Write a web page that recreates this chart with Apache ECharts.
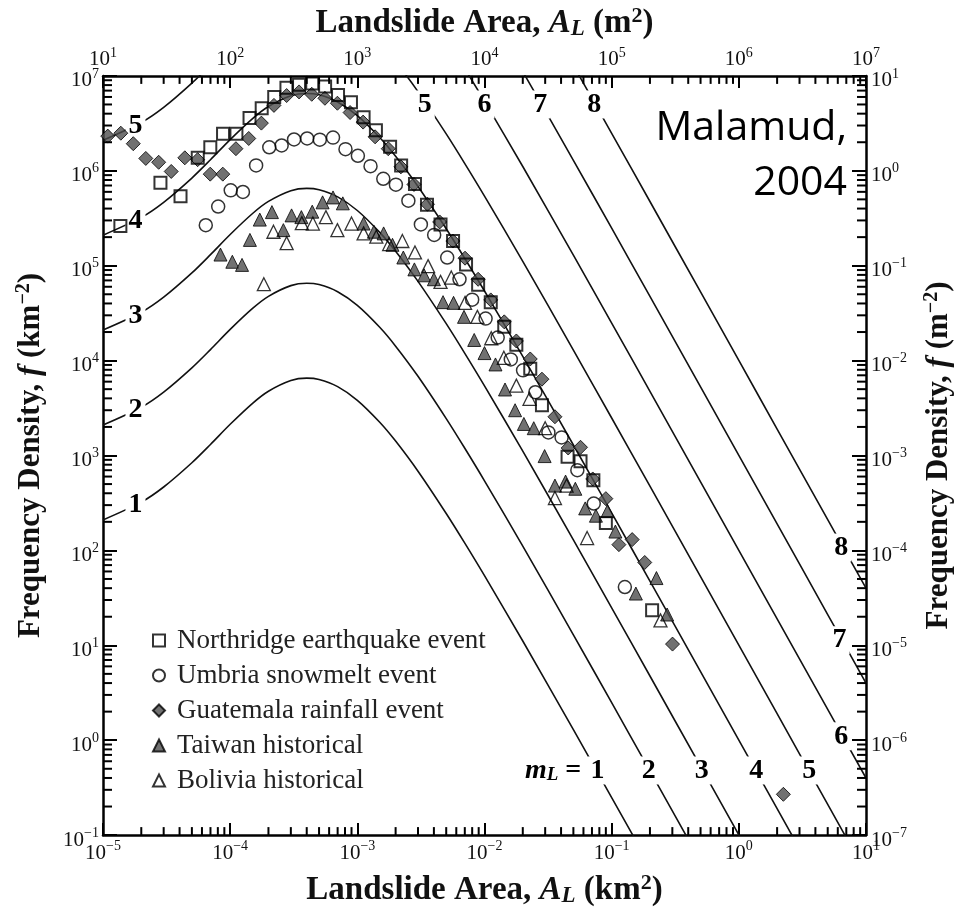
<!DOCTYPE html>
<html><head><meta charset="utf-8">
<script src="https://cdn.jsdelivr.net/npm/echarts@6/dist/echarts.min.js"></script>
<style>html,body{margin:0;padding:0;background:#fff}#c{width:964px;height:913px}</style>
</head><body><div id="c"></div>
<script>
// ---------- axis ranges / tick labels ----------
const bottomTicks = [1e-5, 1e-4, 1e-3, 1e-2, 1e-1, 1e0, 1e1];       // km^2
const topTicks = [1e1, 1e2, 1e3, 1e4, 1e5, 1e6, 1e7];               // m^2
const leftTicks = [1e-1, 1e0, 1e1, 1e2, 1e3, 1e4, 1e5, 1e6, 1e7];   // km^-2
const rightTicks = [1e-7, 1e-6, 1e-5, 1e-4, 1e-3, 1e-2, 1e-1, 1e0, 1e1]; // m^-2

// ---------- model curves ----------
const curveArea = [1e-5,2e-5,3e-5,5e-5,7e-5,1e-4,1.5e-4,2e-4,3e-4,4e-4,5e-4,7e-4,1e-3,1.5e-3,2e-3,3e-3,5e-3,7e-3,1e-2,2e-2,5e-2,0.1,0.2,0.5,1,2,5,10];
const curve1 = [2.096e2,3.227e2,4.657e2,8.389e2,1.307e3,2.132e3,3.548e3,4.756e3,6.167e3,6.530e3,6.324e3,5.316e3,3.817e3,2.243e3,1.420e3,6.834e2,2.449e2,1.192e2,5.412e1,1.110e1,1.290e0,2.484e-1,4.747e-2,5.285e-3,1.003e-3,1.901e-4,2.110e-5,3.997e-6];
const curve2 = [2.096e3,3.227e3,4.657e3,8.389e3,1.307e4,2.132e4,3.548e4,4.756e4,6.167e4,6.530e4,6.324e4,5.316e4,3.817e4,2.243e4,1.420e4,6.834e3,2.449e3,1.192e3,5.412e2,1.110e2,1.290e1,2.484e0,4.747e-1,5.285e-2,1.003e-2,1.901e-3,2.110e-4,3.997e-5];
const curve3 = [2.096e4,3.227e4,4.657e4,8.389e4,1.307e5,2.132e5,3.548e5,4.756e5,6.167e5,6.530e5,6.324e5,5.316e5,3.817e5,2.243e5,1.420e5,6.834e4,2.449e4,1.192e4,5.412e3,1.110e3,1.290e2,2.484e1,4.747e0,5.285e-1,1.003e-1,1.901e-2,2.110e-3,3.997e-4];
const curve4 = [2.096e5,3.227e5,4.657e5,8.389e5,1.307e6,2.132e6,3.548e6,4.756e6,6.167e6,6.530e6,6.324e6,5.316e6,3.817e6,2.243e6,1.420e6,6.834e5,2.449e5,1.192e5,5.412e4,1.110e4,1.290e3,2.484e2,4.747e1,5.285e0,1.003e0,1.901e-1,2.110e-2,3.997e-3];
const curve5 = [2.096e6,3.227e6,4.657e6,8.389e6,1.307e7,2.132e7,3.548e7,4.756e7,6.167e7,6.530e7,6.324e7,5.316e7,3.817e7,2.243e7,1.420e7,6.834e6,2.449e6,1.192e6,5.412e5,1.110e5,1.290e4,2.484e3,4.747e2,5.285e1,1.003e1,1.901e0,2.110e-1,3.997e-2];
const curve6 = [2.096e7,3.227e7,4.657e7,8.389e7,1.307e8,2.132e8,3.548e8,4.756e8,6.167e8,6.530e8,6.324e8,5.316e8,3.817e8,2.243e8,1.420e8,6.834e7,2.449e7,1.192e7,5.412e6,1.110e6,1.290e5,2.484e4,4.747e3,5.285e2,1.003e2,1.901e1,2.110e0,3.997e-1];
const curve7 = [2.096e8,3.227e8,4.657e8,8.389e8,1.307e9,2.132e9,3.548e9,4.756e9,6.167e9,6.530e9,6.324e9,5.316e9,3.817e9,2.243e9,1.420e9,6.834e8,2.449e8,1.192e8,5.412e7,1.110e7,1.290e6,2.484e5,4.747e4,5.285e3,1.003e3,1.901e2,2.110e1,3.997e0];
const curve8 = [2.096e9,3.227e9,4.657e9,8.389e9,1.307e10,2.132e10,3.548e10,4.756e10,6.167e10,6.530e10,6.324e10,5.316e10,3.817e10,2.243e10,1.420e10,6.834e9,2.449e9,1.192e9,5.412e8,1.110e8,1.290e7,2.484e6,4.747e5,5.285e4,1.003e4,1.901e3,2.110e2,3.997e1];
const curves = [curve1, curve2, curve3, curve4, curve5, curve6, curve7, curve8];

// curve labels: [area km^2, density km^-2, text]
const curveLabels = [
  [1.8e-5, 3.0e6, '5'], [1.8e-5, 3.0e5, '4'], [1.8e-5, 3.0e4, '3'], [1.8e-5, 3.0e3, '2'], [1.8e-5, 3.0e2, '1'],
  [3.39e-3, 5e6, '5'], [1.0e-2, 5e6, '6'], [2.75e-2, 5e6, '7'], [7.3e-2, 5e6, '8'],
  [6.4, 107, '8'], [6.2, 11.3, '7'], [6.4, 1.1, '6'],
  [0.0775, 0.48, '1'], [0.196, 0.48, '2'], [0.51, 0.48, '3'], [1.37, 0.48, '4'], [3.58, 0.48, '5'],
  [0.0577, 0.48, 'mL']
];

// ---------- observed landslide inventories ----------
const northridge = [[1.37e-5,2.62e5],[2.83e-5,7.48e5],[4.07e-5,5.39e5],[5.56e-5,1.37e6],[6.98e-5,1.77e6],[8.79e-5,2.45e6],[1.12e-4,2.45e6],[1.42e-4,3.59e6],[1.77e-4,4.55e6],[2.22e-4,5.99e6],[2.77e-4,7.51e6],[3.48e-4,8.07e6],[4.42e-4,8.32e6],[5.58e-4,7.75e6],[7.05e-4,6.31e6],[8.91e-4,5.29e6],[1.12e-3,3.67e6],[1.40e-3,2.68e6],[1.81e-3,1.79e6],[2.21e-3,1.14e6],[2.84e-3,7.27e5],[3.53e-3,4.40e5],[4.51e-3,2.72e5],[5.66e-3,1.82e5],[7.16e-3,1.03e5],[8.91e-3,6.28e4],[1.12e-2,4.13e4],[1.43e-2,2.28e4],[1.78e-2,1.47e4],[2.29e-2,8.22e3],[2.83e-2,3.38e3],[4.50e-2,970],[5.69e-2,869],[7.18e-2,547],[9.00e-2,194],[0.208,23.4]];
const umbria = [[6.43e-5,2.67e5],[8.05e-5,4.20e5],[1.01e-4,6.22e5],[1.26e-4,5.98e5],[1.60e-4,1.14e6],[2.03e-4,1.77e6],[2.54e-4,1.85e6],[3.18e-4,2.14e6],[4.03e-4,2.19e6],[5.07e-4,2.13e6],[6.44e-4,2.24e6],[8.07e-4,1.69e6],[1.01e-3,1.44e6],[1.27e-3,1.12e6],[1.60e-3,8.24e5],[2.01e-3,7.14e5],[2.52e-3,4.84e5],[3.16e-3,2.72e5],[4.02e-3,2.11e5],[5.09e-3,1.22e5],[6.36e-3,7.19e4],[8.00e-3,4.39e4],[1.02e-2,2.77e4],[1.27e-2,1.75e4],[1.61e-2,1.03e4],[2.01e-2,7.90e3],[2.51e-2,4.64e3],[3.18e-2,1.75e3],[4.04e-2,1.55e3],[5.37e-2,701],[7.23e-2,312],[0.127,41.1]];
const guatemala = [[1.09e-5,2.32e6],[1.38e-5,2.49e6],[1.73e-5,1.93e6],[2.17e-5,1.35e6],[2.74e-5,1.23e6],[3.44e-5,9.84e5],[4.40e-5,1.37e6],[5.55e-5,1.31e6],[6.97e-5,9.22e5],[8.75e-5,9.22e5],[1.11e-4,1.71e6],[1.40e-4,2.19e6],[1.76e-4,3.18e6],[2.21e-4,4.89e6],[2.78e-4,6.21e6],[3.48e-4,6.78e6],[4.38e-4,6.40e6],[5.56e-4,5.81e6],[6.97e-4,5.15e6],[8.77e-4,4.11e6],[1.11e-3,3.26e6],[1.38e-3,2.28e6],[1.75e-3,1.71e6],[2.20e-3,1.10e6],[2.79e-3,7.18e5],[3.56e-3,4.44e5],[4.44e-3,2.89e5],[5.64e-3,1.82e5],[7.03e-3,1.20e5],[8.91e-3,7.19e4],[1.12e-2,4.36e4],[1.43e-2,2.56e4],[1.78e-2,1.61e4],[2.29e-2,1.04e4],[2.83e-2,6.37e3],[3.58e-2,2.56e3],[4.55e-2,1.20e3],[5.69e-2,1.22e3],[7.10e-2,566],[9.00e-2,351],[0.114,115],[0.145,130],[0.182,74.6],[0.301,10.3],[2.24,0.269]];
const taiwan = [[8.39e-5,1.31e5],[1.04e-4,1.10e5],[1.24e-4,1.02e5],[1.43e-4,1.87e5],[1.71e-4,3.06e5],[2.13e-4,3.67e5],[2.62e-4,2.37e5],[3.04e-4,3.39e5],[3.63e-4,3.25e5],[4.42e-4,3.71e5],[5.33e-4,4.65e5],[6.44e-4,5.24e5],[7.69e-4,4.54e5],[1.12e-3,2.78e5],[1.35e-3,2.28e5],[1.61e-3,2.19e5],[1.89e-3,1.66e5],[2.30e-3,1.22e5],[2.81e-3,9.14e4],[3.35e-3,7.92e4],[4.00e-3,7.20e4],[4.72e-3,4.13e4],[5.71e-3,4.06e4],[6.90e-3,2.89e4],[8.30e-3,1.65e4],[1.00e-2,1.20e4],[1.22e-2,9.11e3],[1.45e-2,4.96e3],[1.74e-2,3.00e3],[2.04e-2,2.15e3],[2.44e-2,1.94e3],[2.97e-2,986],[3.58e-2,482],[4.34e-2,531],[5.18e-2,446],[6.19e-2,277],[7.52e-2,232],[9.27e-2,259],[0.107,158],[0.155,35.1],[0.225,51.1],[0.273,21.1]];
const bolivia = [[1.84e-4,6.38e4],[2.19e-4,2.28e5],[2.78e-4,1.73e5],[3.66e-4,2.81e5],[4.47e-4,2.78e5],[5.66e-4,3.25e5],[6.97e-4,2.37e5],[9.00e-4,2.78e5],[1.12e-3,2.19e5],[1.41e-3,2.02e5],[1.78e-3,1.69e5],[2.26e-3,1.82e5],[2.84e-3,1.38e5],[3.60e-3,9.89e4],[4.51e-3,6.75e4],[5.48e-3,7.50e4],[7.03e-3,4.06e4],[8.79e-3,2.89e4],[1.13e-2,1.72e4],[1.42e-2,1.07e4],[1.78e-2,5.45e3],[2.26e-2,3.96e3],[3.00e-2,1.94e3],[4.42e-2,482],[3.58e-2,356],[6.41e-2,135],[0.242,18.3]];

const seriesNames = ['Northridge earthquake event','Umbria snowmelt event','Guatemala rainfall event','Taiwan historical','Bolivia historical'];

// ---------- helpers ----------
const SERIF = '"Liberation Serif", "Times New Roman", serif';
const X_MIN = bottomTicks[0], X_MAX = bottomTicks[bottomTicks.length-1];
const Y_MIN = leftTicks[0], Y_MAX = leftTicks[leftTicks.length-1];
function expLabel(v){
  const e = Math.round(Math.log10(v));
  return '10{s|' + (e < 0 ? '\u2212' + (-e) : e) + '}';
}
const tickRich = { s: { fontSize: 14, lineHeight: 14, verticalAlign: 'top', fontFamily: SERIF, color: '#111' } };
function titleRich(fs){
  return {
    i: { fontStyle: 'italic', fontWeight: 'bold', fontSize: fs, fontFamily: SERIF, color: '#111' },
    sub: { fontStyle: 'italic', fontWeight: 'bold', fontSize: Math.round(fs*0.7), lineHeight: Math.round(fs*0.7), verticalAlign: 'bottom', fontFamily: SERIF, color: '#111' },
    sup: { fontWeight: 'bold', fontSize: Math.round(fs*0.66), lineHeight: Math.round(fs*0.66), verticalAlign: 'top', fontFamily: SERIF, color: '#111' }
  };
}
const minorX = [], minorY = [];
for (let e = -5; e < 1; e++) for (let k = 2; k <= 9; k++) minorX.push([k * Math.pow(10, e), 1]);
for (let e = -1; e < 7; e++) for (let k = 2; k <= 9; k++) minorY.push([1e-3, k * Math.pow(10, e)]);

const axisLine = { lineStyle: { color: '#000', width: 2.5 } };

const chart = echarts.init(document.getElementById('c'), null, { renderer: 'canvas' });

const series = [];
curves.forEach(function(c, idx){
  series.push({
    type: 'line', name: 'mL' + (idx+1), xAxisIndex: 0, yAxisIndex: 0,
    data: curveArea.map(function(a, i){ return [a, c[i]]; }),
    showSymbol: false, smooth: 0.3, clip: true, silent: true, z: 2,
    lineStyle: { color: '#111', width: 1.6 }
  });
});
// curve magnitude labels, white box knocks the curve out behind the number
series.push({
  type: 'custom', name: 'curveLabels', xAxisIndex: 0, yAxisIndex: 0, silent: true, z: 3,
  data: curveLabels.map(function(d){ return [d[0], d[1]]; }),
  renderItem: function(params, api){
    const p = api.coord([api.value(0), api.value(1)]);
    const txt = curveLabels[params.dataIndex][2];
    if (txt === 'mL') {
      return { type: 'text', x: p[0], y: p[1], style: {
        text: '{m|m}{l|L} =', align: 'right', verticalAlign: 'middle', fill: '#000',
        font: 'bold 28px ' + SERIF,
        rich: {
          m: { fontStyle: 'italic', fontWeight: 'bold', fontSize: 28, lineHeight: 28, fontFamily: SERIF, fill: '#000' },
          l: { fontStyle: 'italic', fontWeight: 'bold', fontSize: 19, lineHeight: 19, verticalAlign: 'bottom', fontFamily: SERIF, fill: '#000' }
        }
      }};
    }
    return { type: 'text', x: p[0], y: p[1], style: {
      text: txt, align: 'center', verticalAlign: 'middle', fill: '#000',
      font: 'bold 28px ' + SERIF, backgroundColor: '#fff', padding: [0, 3]
    }};
  }
});
const fillGray = '#4d4d4d';
series.push({ type: 'scatter', name: seriesNames[0], data: northridge, symbol: 'rect', symbolSize: 12, z: 5,
  itemStyle: { color: 'rgba(255,255,255,0)', borderColor: '#000', borderWidth: 2 } });
series.push({ type: 'scatter', name: seriesNames[1], data: umbria, symbol: 'circle', symbolSize: 13, z: 5,
  itemStyle: { color: 'rgba(255,255,255,0)', borderColor: '#000', borderWidth: 1.5 } });
series.push({ type: 'scatter', name: seriesNames[2], data: guatemala, symbol: 'diamond', symbolSize: 14, z: 4,
  itemStyle: { color: fillGray, borderColor: '#000', borderWidth: 1 } });
series.push({ type: 'scatter', name: seriesNames[3], data: taiwan, symbol: 'triangle', symbolSize: 13, z: 4,
  itemStyle: { color: fillGray, borderColor: '#000', borderWidth: 1 } });
series.push({ type: 'scatter', name: seriesNames[4], data: bolivia, symbol: 'triangle', symbolSize: 13, z: 5,
  itemStyle: { color: 'rgba(255,255,255,0)', borderColor: '#000', borderWidth: 1.3 } });

// minor ticks (2..9 per decade) drawn on all four sides through the axes' scales
series.push({
  type: 'custom', name: 'minorX', xAxisIndex: 0, yAxisIndex: 0, silent: true, z: 6, data: minorX,
  renderItem: function(params, api){
    const v = api.value(0);
    const b = api.coord([v, Y_MIN]), t = api.coord([v, Y_MAX]);
    const st = { stroke: '#000', lineWidth: 2 };
    return { type: 'group', children: [
      { type: 'line', shape: { x1: b[0], y1: b[1], x2: b[0], y2: b[1] - 8 }, style: st },
      { type: 'line', shape: { x1: t[0], y1: t[1], x2: t[0], y2: t[1] + 8 }, style: st }
    ]};
  }
});
series.push({
  type: 'custom', name: 'minorY', xAxisIndex: 0, yAxisIndex: 0, silent: true, z: 6, data: minorY,
  renderItem: function(params, api){
    const v = api.value(1);
    const l = api.coord([X_MIN, v]), r = api.coord([X_MAX, v]);
    const st = { stroke: '#000', lineWidth: 2 };
    return { type: 'group', children: [
      { type: 'line', shape: { x1: l[0], y1: l[1], x2: l[0] + 9, y2: l[1] }, style: st },
      { type: 'line', shape: { x1: r[0], y1: r[1], x2: r[0] - 9, y2: r[1] }, style: st }
    ]};
  }
});

const XT = 33, YT = 31;
const option = {
  animation: false,
  backgroundColor: '#fff',
  grid: { left: 103, right: 84, top: 73, bottom: 67, containLabel: false },
  legend: {
    data: seriesNames, orient: 'vertical', left: 147, top: 622,
    itemWidth: 12, itemHeight: 12, itemGap: 8, selectedMode: false,
    textStyle: { fontFamily: SERIF, fontSize: 27, lineHeight: 27, color: '#222', padding: [0, 0, 0, 7] }
  },
  xAxis: [
    { type: 'log', logBase: 10, position: 'bottom', min: X_MIN, max: X_MAX, interval: 1, splitNumber: 6,
      axisLine: axisLine, axisTick: { inside: true, length: 12, lineStyle: { width: 2, color: '#000' } },
      splitLine: { show: false },
      axisLabel: { margin: 4, formatter: expLabel, fontFamily: SERIF, fontSize: 21, lineHeight: 28, color: '#111', rich: tickRich },
      name: 'Landslide Area, {i|A}{sub|L} (km{sup|2})', nameLocation: 'middle', nameGap: 29,
      nameTextStyle: { fontFamily: SERIF, fontWeight: 'bold', fontSize: XT, lineHeight: 36, color: '#111', rich: titleRich(XT) } },
    { type: 'log', logBase: 10, position: 'top', min: topTicks[0], max: topTicks[topTicks.length-1], interval: 1, splitNumber: 6,
      axisLine: axisLine, axisTick: { inside: true, length: 12, lineStyle: { width: 2, color: '#000' } },
      splitLine: { show: false },
      axisLabel: { margin: 2, formatter: expLabel, fontFamily: SERIF, fontSize: 21, lineHeight: 28, color: '#111', rich: tickRich },
      name: 'Landslide Area, {i|A}{sub|L} (m{sup|2})', nameLocation: 'middle', nameGap: 27,
      nameTextStyle: { fontFamily: SERIF, fontWeight: 'bold', fontSize: XT, lineHeight: 36, color: '#111', rich: titleRich(XT) } }
  ],
  yAxis: [
    { type: 'log', logBase: 10, position: 'left', min: Y_MIN, max: Y_MAX, interval: 1, splitNumber: 8,
      axisLine: axisLine, axisTick: { inside: true, length: 14, lineStyle: { width: 2, color: '#000' } },
      splitLine: { show: false },
      axisLabel: { margin: 4, padding: [10, 0, 0, 0], formatter: expLabel, fontFamily: SERIF, fontSize: 21, lineHeight: 28, color: '#111', rich: tickRich },
      name: 'Frequency Density, {i|f} (km{sup|\u22122})', nameLocation: 'middle', nameGap: 55, nameRotate: 90,
      nameTextStyle: { fontFamily: SERIF, fontWeight: 'bold', fontSize: YT, lineHeight: 34, color: '#111', rich: titleRich(YT) } },
    { type: 'log', logBase: 10, position: 'right', min: rightTicks[0], max: rightTicks[rightTicks.length-1], interval: 1, splitNumber: 8,
      axisLine: axisLine, axisTick: { inside: true, length: 14, lineStyle: { width: 2, color: '#000' } },
      splitLine: { show: false },
      axisLabel: { margin: 5, padding: [10, 0, 0, 0], formatter: expLabel, fontFamily: SERIF, fontSize: 21, lineHeight: 28, color: '#111', rich: tickRich },
      name: 'Frequency Density, {i|f} (m{sup|\u22122})', nameLocation: 'middle', nameGap: 56, nameRotate: 90,
      nameTextStyle: { fontFamily: SERIF, fontWeight: 'bold', fontSize: YT, lineHeight: 34, color: '#111', rich: titleRich(YT) } }
  ],
  graphic: [
    { type: 'text', x: 847, y: 128, z: 10, style: { text: 'Malamud,', textAlign: 'right', textVerticalAlign: 'middle', font: '41px "Open Sans", sans-serif', fill: '#000' } },
    { type: 'text', x: 847, y: 183, z: 10, style: { text: '2004', textAlign: 'right', textVerticalAlign: 'middle', font: '41px "Open Sans", sans-serif', fill: '#000' } }
  ],
  series: series
};
chart.setOption(option);
</script>
</body></html>
